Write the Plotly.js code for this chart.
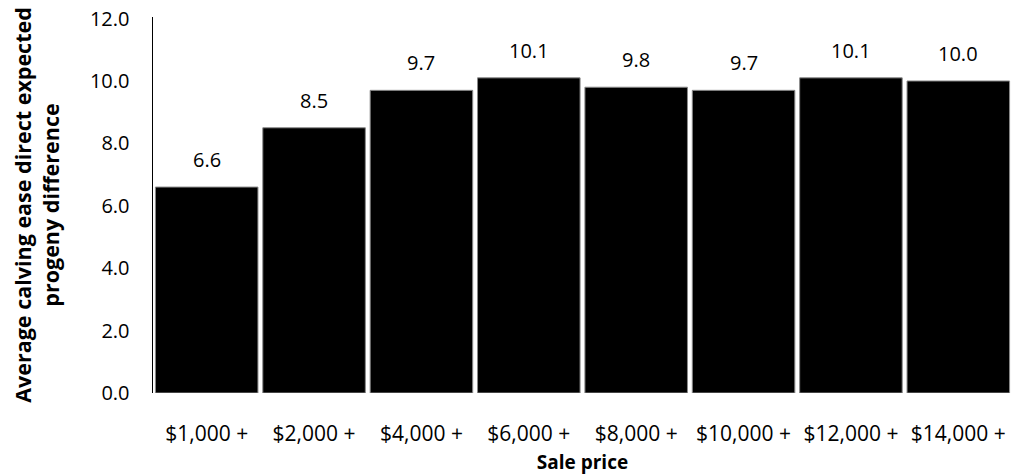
<!DOCTYPE html>
<html><head><meta charset="utf-8">
<script src="https://cdn.plot.ly/plotly-3.0.1.min.js"></script>
<style>body{margin:0;padding:0;background:#fff}#c{width:1013px;height:475px}</style>
</head><body><div id="c"></div>
<script>
const categories = ["$1,000 +", "$2,000 +", "$4,000 +", "$6,000 +", "$8,000 +", "$10,000 +", "$12,000 +", "$14,000 +"];
const values = [6.6, 8.5, 9.7, 10.1, 9.8, 9.7, 10.1, 10.0];
const yTickVals = [0, 2, 4, 6, 8, 10, 12];
const yTickText = ["0.0", "2.0", "4.0", "6.0", "8.0", "10.0", "12.0"];
const FONT = "'Open Sans', 'Noto Sans', sans-serif";

const trace = {
  type: "bar", x: categories, y: values,
  marker: {color: "#000000", line: {color: "#8a8a8a", width: 1}},
  hoverinfo: "none"
};
const annotations = categories.map((c, i) => ({
  x: c, y: values[i], xref: "x", yref: "y",
  text: values[i].toFixed(1), showarrow: false,
  yanchor: "bottom", yshift: 12,
  font: {family: FONT, size: 20, color: "#000"}
}));
const layout = {
  width: 1013, height: 475,
  margin: {l: 153, r: 1, t: 17, b: 82},
  paper_bgcolor: "#fff", plot_bgcolor: "#fff",
  bargap: 0.045,
  showlegend: false,
  font: {family: FONT, size: 20, color: "#000"},
  xaxis: {
    type: "category", showgrid: false, zeroline: false, showline: false,
    ticks: "", ticklabelstandoff: 26,
    tickfont: {family: FONT, size: 21, color: "#000"},
    title: {text: "<b>Sale price</b>", font: {family: FONT, size: 19, color: "#000"}, standoff: 9}
  },
  yaxis: {
    range: [0, 12.05], tickvals: yTickVals, ticktext: yTickText,
    showgrid: false, zeroline: false, showline: true, linecolor: "#000", linewidth: 1.5,
    ticks: "", ticklabelstandoff: 18,
    tickfont: {family: FONT, size: 20, color: "#000"},
    title: {text: "<b>Average calving ease direct expected<br>progeny difference</b>", font: {family: FONT, size: 21.5, color: "#000"}, standoff: 24}
  },
  annotations: annotations
};
Plotly.newPlot("c", [trace], layout, {staticPlot: true});
</script>
</body></html>
